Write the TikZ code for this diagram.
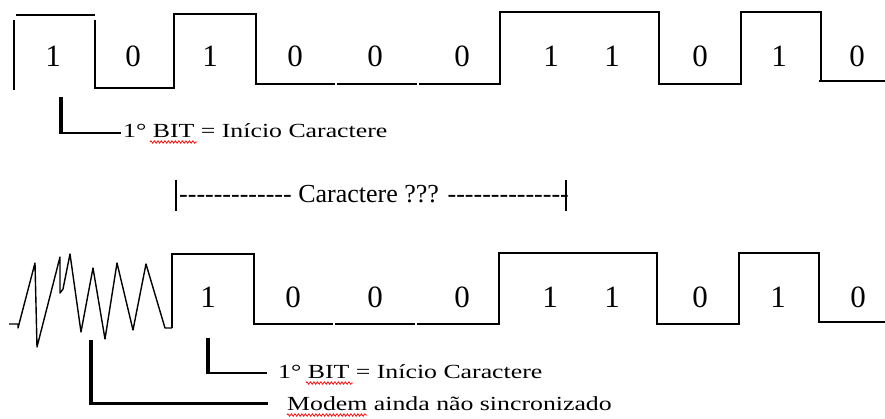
\documentclass[tikz,border=0pt]{standalone}
\usepackage{fontspec}
\usetikzlibrary{decorations.pathmorphing}
\newfontfamily\lblfont[FakeStretch=1.29,Ligatures=TeXOff]{Liberation Serif}
\newfontfamily\digfont{Liberation Serif}
\newfontfamily\midfont[Ligatures=TeXOff]{Liberation Serif}
\begin{document}
\begin{tikzpicture}[x=1pt,y=-1pt,
  wave/.style={line width=1.6pt,line join=miter},
  noise/.style={line width=1.4pt,line join=round},
  barv/.style={line width=3.5pt},
  barh/.style={line width=1.8pt},
  barhh/.style={line width=3pt},
  digit/.style={inner sep=0pt,anchor=center,font=\digfont\fontsize{31}{34}\selectfont},
  lbl/.style={inner sep=0pt,anchor=base west,font=\lblfont\fontsize{20}{24}\selectfont},
  midlbl/.style={inner sep=0pt,anchor=base west,font=\midfont\fontsize{26}{30}\selectfont},
  squig/.style={red,line width=0.7pt,decorate,decoration={zigzag,segment length=3.5pt,amplitude=1.3pt}}]
\useasboundingbox (0,0) rectangle (885,419);
\fill[white] (0,0) rectangle (885,419);
% ---------- top waveform ----------
\draw[wave] (14,20) -- (14,90);
\draw[wave] (16,15) -- (95,15);
\draw[wave] (95,20) -- (95,88) -- (174,88) -- (174,14) -- (256,14) -- (256,84) -- (335,84);
\draw[wave] (337,84) -- (417,84);
\draw[wave] (419,84) -- (500,84) -- (500,12) -- (659,12) -- (659,84) -- (741,84) -- (741,12) -- (821,12) -- (821,81);
\draw[wave] (819,81) -- (885,81);
\foreach \x/\d [count=\i] in {53/1,133/0,210/1,295/0,375/0,462/0,551/1,612/1,700/0,779/1,857/0}
  \node[digit] (td\i) at (\x,56) {\d};
% first bracket
\node[lbl] (t1) at (123,138) {1° BIT = Início Caractere};
\coordinate (b1) at (61,97);
\coordinate (b1c) at (61,133);
\coordinate (b1e) at (121,133);
\draw[barv] (b1) -- (b1c);
\draw[barh] ([xshift=-1.75pt]b1c) -- (b1e);
\draw[squig] (150,142) -- (197,142);
% ---------- middle ----------
\node[midlbl] (mid) at (179,203) {------------- Caractere ??? --------------};
\coordinate (ml) at (176,180);
\coordinate (mr) at (566,180);
\draw[barh] (ml) -- ++(0,31);
\draw[barh] (mr) -- ++(0,31);
% ---------- bottom waveform ----------
\draw[noise] (9,324) -- (18,324) -- (18,328) -- (35,263) -- (37,347) -- (60,257) -- (60,293) -- (63,289) -- (70,254) -- (81,332) -- (93,268) -- (105,339) -- (117,263) -- (133,330) -- (146,264) -- (165,328) -- (172,328);
\draw[wave] (172,328) -- (172,254) -- (254,254) -- (254,324) -- (333,324);
\draw[wave] (335,324) -- (415,324);
\draw[wave] (417,324) -- (499,324) -- (499,253) -- (657,253) -- (657,324) -- (739,324) -- (739,253) -- (819,253) -- (819,322) -- (885,322);
\foreach \x/\d [count=\i] in {208/1,293/0,375/0,462/0,550/1,612/1,700/0,778/1,858/0}
  \node[digit] (bd\i) at (\x,297) {\d};
% bottom brackets
\node[lbl] (t2) at (278,378) {1° BIT = Início Caractere};
\coordinate (b2) at (208,338);
\coordinate (b2c) at (208,373);
\coordinate (b2e) at (267,373);
\draw[barv] (b2) -- (b2c);
\draw[barh] ([xshift=-1.75pt]b2c) -- (b2e);
\draw[squig] (306,383) -- (353,383);
\node[lbl] (t3) at (287,410) {Modem ainda não sincronizado};
\coordinate (b3) at (91,340);
\coordinate (b3c) at (91,403);
\coordinate (b3e) at (268,403);
\draw[barv] (b3) -- (b3c);
\draw[barhh] ([xshift=-1.75pt]b3c) -- (b3e);
\draw[squig] (287,415) -- (367,415);
\end{tikzpicture}
\end{document}
